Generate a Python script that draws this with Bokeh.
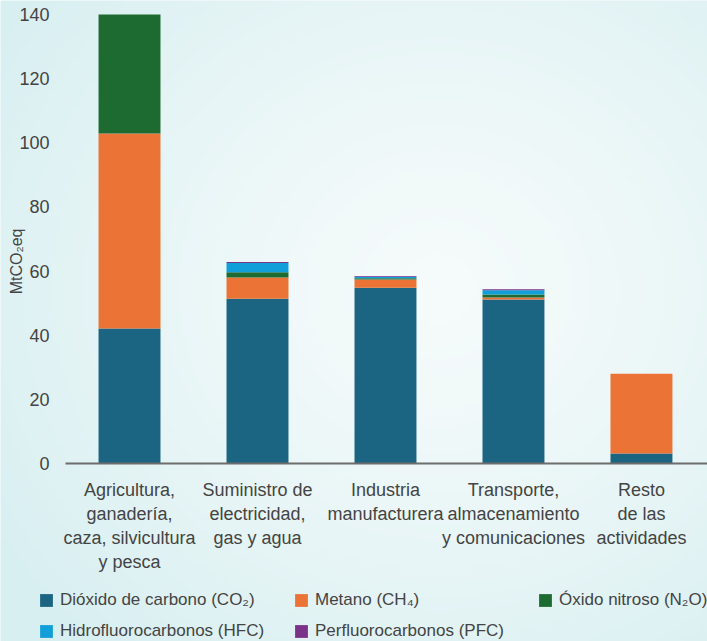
import math
import numpy as np
from bokeh.plotting import figure
from bokeh.models import Legend, LegendItem, FixedTicker, ColumnDataSource, Range1d, Label
from bokeh.embed import file_html
from bokeh.resources import INLINE

categories = [
    "Agricultura,\nganadería,\ncaza, silvicultura\ny pesca",
    "Suministro de\nelectricidad,\ngas y agua",
    "Industria\nmanufacturera",
    "Transporte,\nalmacenamiento\ny comunicaciones",
    "Resto\nde las\nactividades",
]
co2 = [42.1, 51.4, 54.8, 51.1, 3.1]
ch4 = [60.8, 6.6, 2.6, 0.7, 24.9]
n2o = [37.1, 1.6, 0.4, 0.9, 0.0]
hfc = [0.0, 2.9, 0.4, 1.3, 0.0]
pfc = [0.0, 0.3, 0.3, 0.3, 0.0]
series = ["co2", "ch4", "n2o", "hfc", "pfc"]
series_labels = [
    "Dióxido de carbono (CO₂)",
    "Metano (CH₄)",
    "Óxido nitroso (N₂O)",
    "Hidrofluorocarbonos (HFC)",
    "Perfluorocarbonos (PFC)",
]
colors = ["#1b6583", "#ea7335", "#1e6b32", "#109fd8", "#7b338a"]
y_ticks = [0, 20, 40, 60, 80, 100, 120, 140]

xpos = list(range(len(categories)))
source = ColumnDataSource(dict(x=xpos, co2=co2, ch4=ch4, n2o=n2o, hfc=hfc, pfc=pfc))

FONT = "Liberation Sans"
BG = "#eaf6f6"
X0, X1 = -1.008, 4.516
Y0, Y1 = -55.5, 144.37

p = figure(
    x_range=Range1d(X0, X1),
    y_range=Range1d(Y0, Y1),
    width=707, height=641,
    output_backend="svg", toolbar_location=None,
    min_border_left=0, min_border_right=0, min_border_top=0, min_border_bottom=0,
)
p.background_fill_color = BG
p.border_fill_color = BG
p.outline_line_color = None
p.grid.visible = False

# soft radial background (decorative)
nx, ny = 180, 160
gx, gy = np.meshgrid(np.linspace(0, 1, nx), np.linspace(0, 1, ny))
d = np.sqrt(((gx - 0.62) / 0.75) ** 2 + ((gy - 0.55) / 0.75) ** 2)
t = np.clip(d, 0, 1) ** 1.3
c_in = np.array([246, 251, 251])
c_out = np.array([216, 239, 241])
img = np.zeros((ny, nx), dtype=np.uint32)
view = img.view(dtype=np.uint8).reshape((ny, nx, 4))
for k in range(3):
    view[:, :, k] = (c_in[k] + (c_out[k] - c_in[k]) * t).astype(np.uint8)
view[:, :, 3] = 255
p.image_rgba(image=[img], x=X0, y=Y0, dw=X1 - X0, dh=Y1 - Y0, level="image")

renderers = p.vbar_stack(series, x="x", width=0.484, color=colors, line_color=None, source=source)

p.yaxis.fixed_location = -0.5
p.yaxis.ticker = FixedTicker(ticks=y_ticks)
p.yaxis.axis_line_color = None
p.yaxis.major_tick_line_color = None
p.yaxis.minor_tick_line_color = None
p.yaxis.major_label_text_font = FONT
p.yaxis.major_label_text_font_size = "18px"
p.yaxis.major_label_text_color = "#444444"
p.yaxis.major_label_standoff = 10

ylab = Label(
    x=16, y=63, x_units="screen", y_units="data", text="MtCO₂eq", angle=math.pi / 2,
    text_align="center", text_baseline="middle",
    text_font=FONT, text_font_size="16px", text_color="#444444",
)
p.add_layout(ylab)

p.xaxis.fixed_location = 0
p.xaxis.bounds = (-0.5, X1)
p.xaxis.ticker = FixedTicker(ticks=xpos)
p.xaxis.major_label_overrides = {i: c for i, c in zip(xpos, categories)}
p.xaxis.axis_line_color = "#6d6d6d"
p.xaxis.axis_line_width = 2
p.xaxis.major_tick_line_color = None
p.xaxis.minor_tick_line_color = None
p.xaxis.major_label_text_font = FONT
p.xaxis.major_label_text_font_size = "18px"
p.xaxis.major_label_text_color = "#444444"
p.xaxis.major_label_standoff = 10

positions = [(38, 31), (293, 31), (537, 31), (38, 0), (293, 0)]
for r, lab, loc in zip(renderers, series_labels, positions):
    leg = Legend(
        items=[LegendItem(label=lab, renderers=[r])],
        location=loc, orientation="horizontal",
        padding=0, margin=0, spacing=0, label_standoff=6,
        glyph_width=16, glyph_height=16,
        label_text_font=FONT, label_text_font_size="17px", label_text_color="#444444",
        border_line_color=None, background_fill_alpha=0,
    )
    p.add_layout(leg)

open("out.html", "w").write(file_html(p, INLINE))
